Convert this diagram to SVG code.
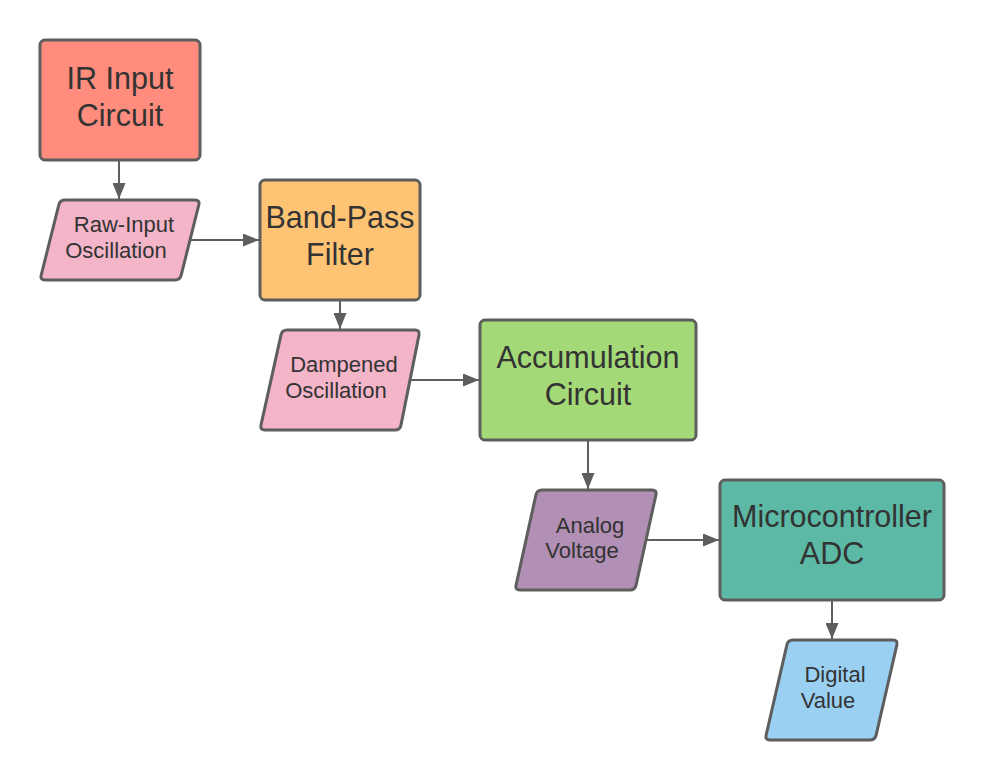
<svg xmlns="http://www.w3.org/2000/svg" width="984" height="780" viewBox="0 0 984 780">
<style>
.box{stroke:#5e5e5e;stroke-width:3;stroke-linejoin:round}
.big{font-family:"Liberation Sans",Arial,sans-serif;font-size:30.5px;fill:#333;text-anchor:middle}
.small{font-family:"Liberation Sans",Arial,sans-serif;font-size:22px;fill:#333;text-anchor:middle}
.conn{stroke:#5e5e5e;stroke-width:2;fill:none}
</style>
<defs>
<marker id="ah" markerUnits="userSpaceOnUse" markerWidth="16" markerHeight="13" refX="16" refY="6.5" orient="auto">
<path d="M0,0 L16,6.5 L0,13 z" fill="#5e5e5e"/>
</marker>
</defs>
<rect width="984" height="780" fill="#ffffff"/>
<g id="connectors">
<line class="conn" x1="119" y1="160" x2="119" y2="199" marker-end="url(#ah)"/>
<line class="conn" x1="190" y1="240" x2="259" y2="240" marker-end="url(#ah)"/>
<line class="conn" x1="340" y1="300" x2="340" y2="329" marker-end="url(#ah)"/>
<line class="conn" x1="410" y1="380" x2="479" y2="380" marker-end="url(#ah)"/>
<line class="conn" x1="588" y1="440" x2="588" y2="489" marker-end="url(#ah)"/>
<line class="conn" x1="646" y1="540" x2="719" y2="540" marker-end="url(#ah)"/>
<line class="conn" x1="832" y1="600" x2="832" y2="639" marker-end="url(#ah)"/>
</g>
<g id="ir-input">
<rect class="box" x="40" y="40" width="160" height="120" rx="5" fill="#ff8c7c"/>
<text class="big" x="120" y="89">IR Input</text>
<text class="big" x="120" y="126">Circuit</text>
</g>
<g id="raw-input">
<path class="box" fill="#f4b5c8" d="M65,200 L195,200 Q200,200 198.8,204.85 L181.2,275.15 Q180,280 175,280 L45,280 Q40,280 41.2,275.15 L58.8,204.85 Q60,200 65,200 Z"/>
<text class="small" x="124" y="232">Raw-Input</text>
<text class="small" x="116" y="258">Oscillation</text>
</g>
<g id="band-pass">
<rect class="box" x="260" y="180" width="160" height="120" rx="5" fill="#ffc374"/>
<text class="big" x="340" y="228">Band-Pass</text>
<text class="big" x="340" y="265">Filter</text>
</g>
<g id="dampened">
<path class="box" fill="#f4b5c8" d="M287,330 L415,330 Q420,330 419.02,334.9 L400.98,425.1 Q400,430 395,430 L265,430 Q260,430 260.98,425.1 L281.02,334.9 Q282,330 287,330 Z"/>
<text class="small" x="344" y="372">Dampened</text>
<text class="small" x="336" y="398">Oscillation</text>
</g>
<g id="accumulation">
<rect class="box" x="480" y="320" width="216" height="120" rx="5" fill="#a3d977"/>
<text class="big" x="588" y="368">Accumulation</text>
<text class="big" x="588" y="405">Circuit</text>
</g>
<g id="analog">
<path class="box" fill="#b28fb4" d="M542,490 L652,490 Q657,490 655.93,494.88 L636.07,585.12 Q635,590 630,590 L520,590 Q515,590 516.07,585.12 L535.93,494.88 Q537,490 542,490 Z"/>
<text class="small" x="590" y="533">Analog</text>
<text class="small" x="582" y="558">Voltage</text>
</g>
<g id="adc">
<rect class="box" x="720" y="480" width="224" height="120" rx="5" fill="#5bb9a5"/>
<text class="big" x="832" y="527">Microcontroller</text>
<text class="big" x="832" y="564">ADC</text>
</g>
<g id="digital">
<path class="box" fill="#9ad1f3" d="M793,640 L893,640 Q898,640 896.88,644.87 L876.12,735.13 Q875,740 870,740 L770,740 Q765,740 766.12,735.13 L786.88,644.87 Q788,640 793,640 Z"/>
<text class="small" x="835" y="682">Digital</text>
<text class="small" x="828" y="708">Value</text>
</g>
</svg>
